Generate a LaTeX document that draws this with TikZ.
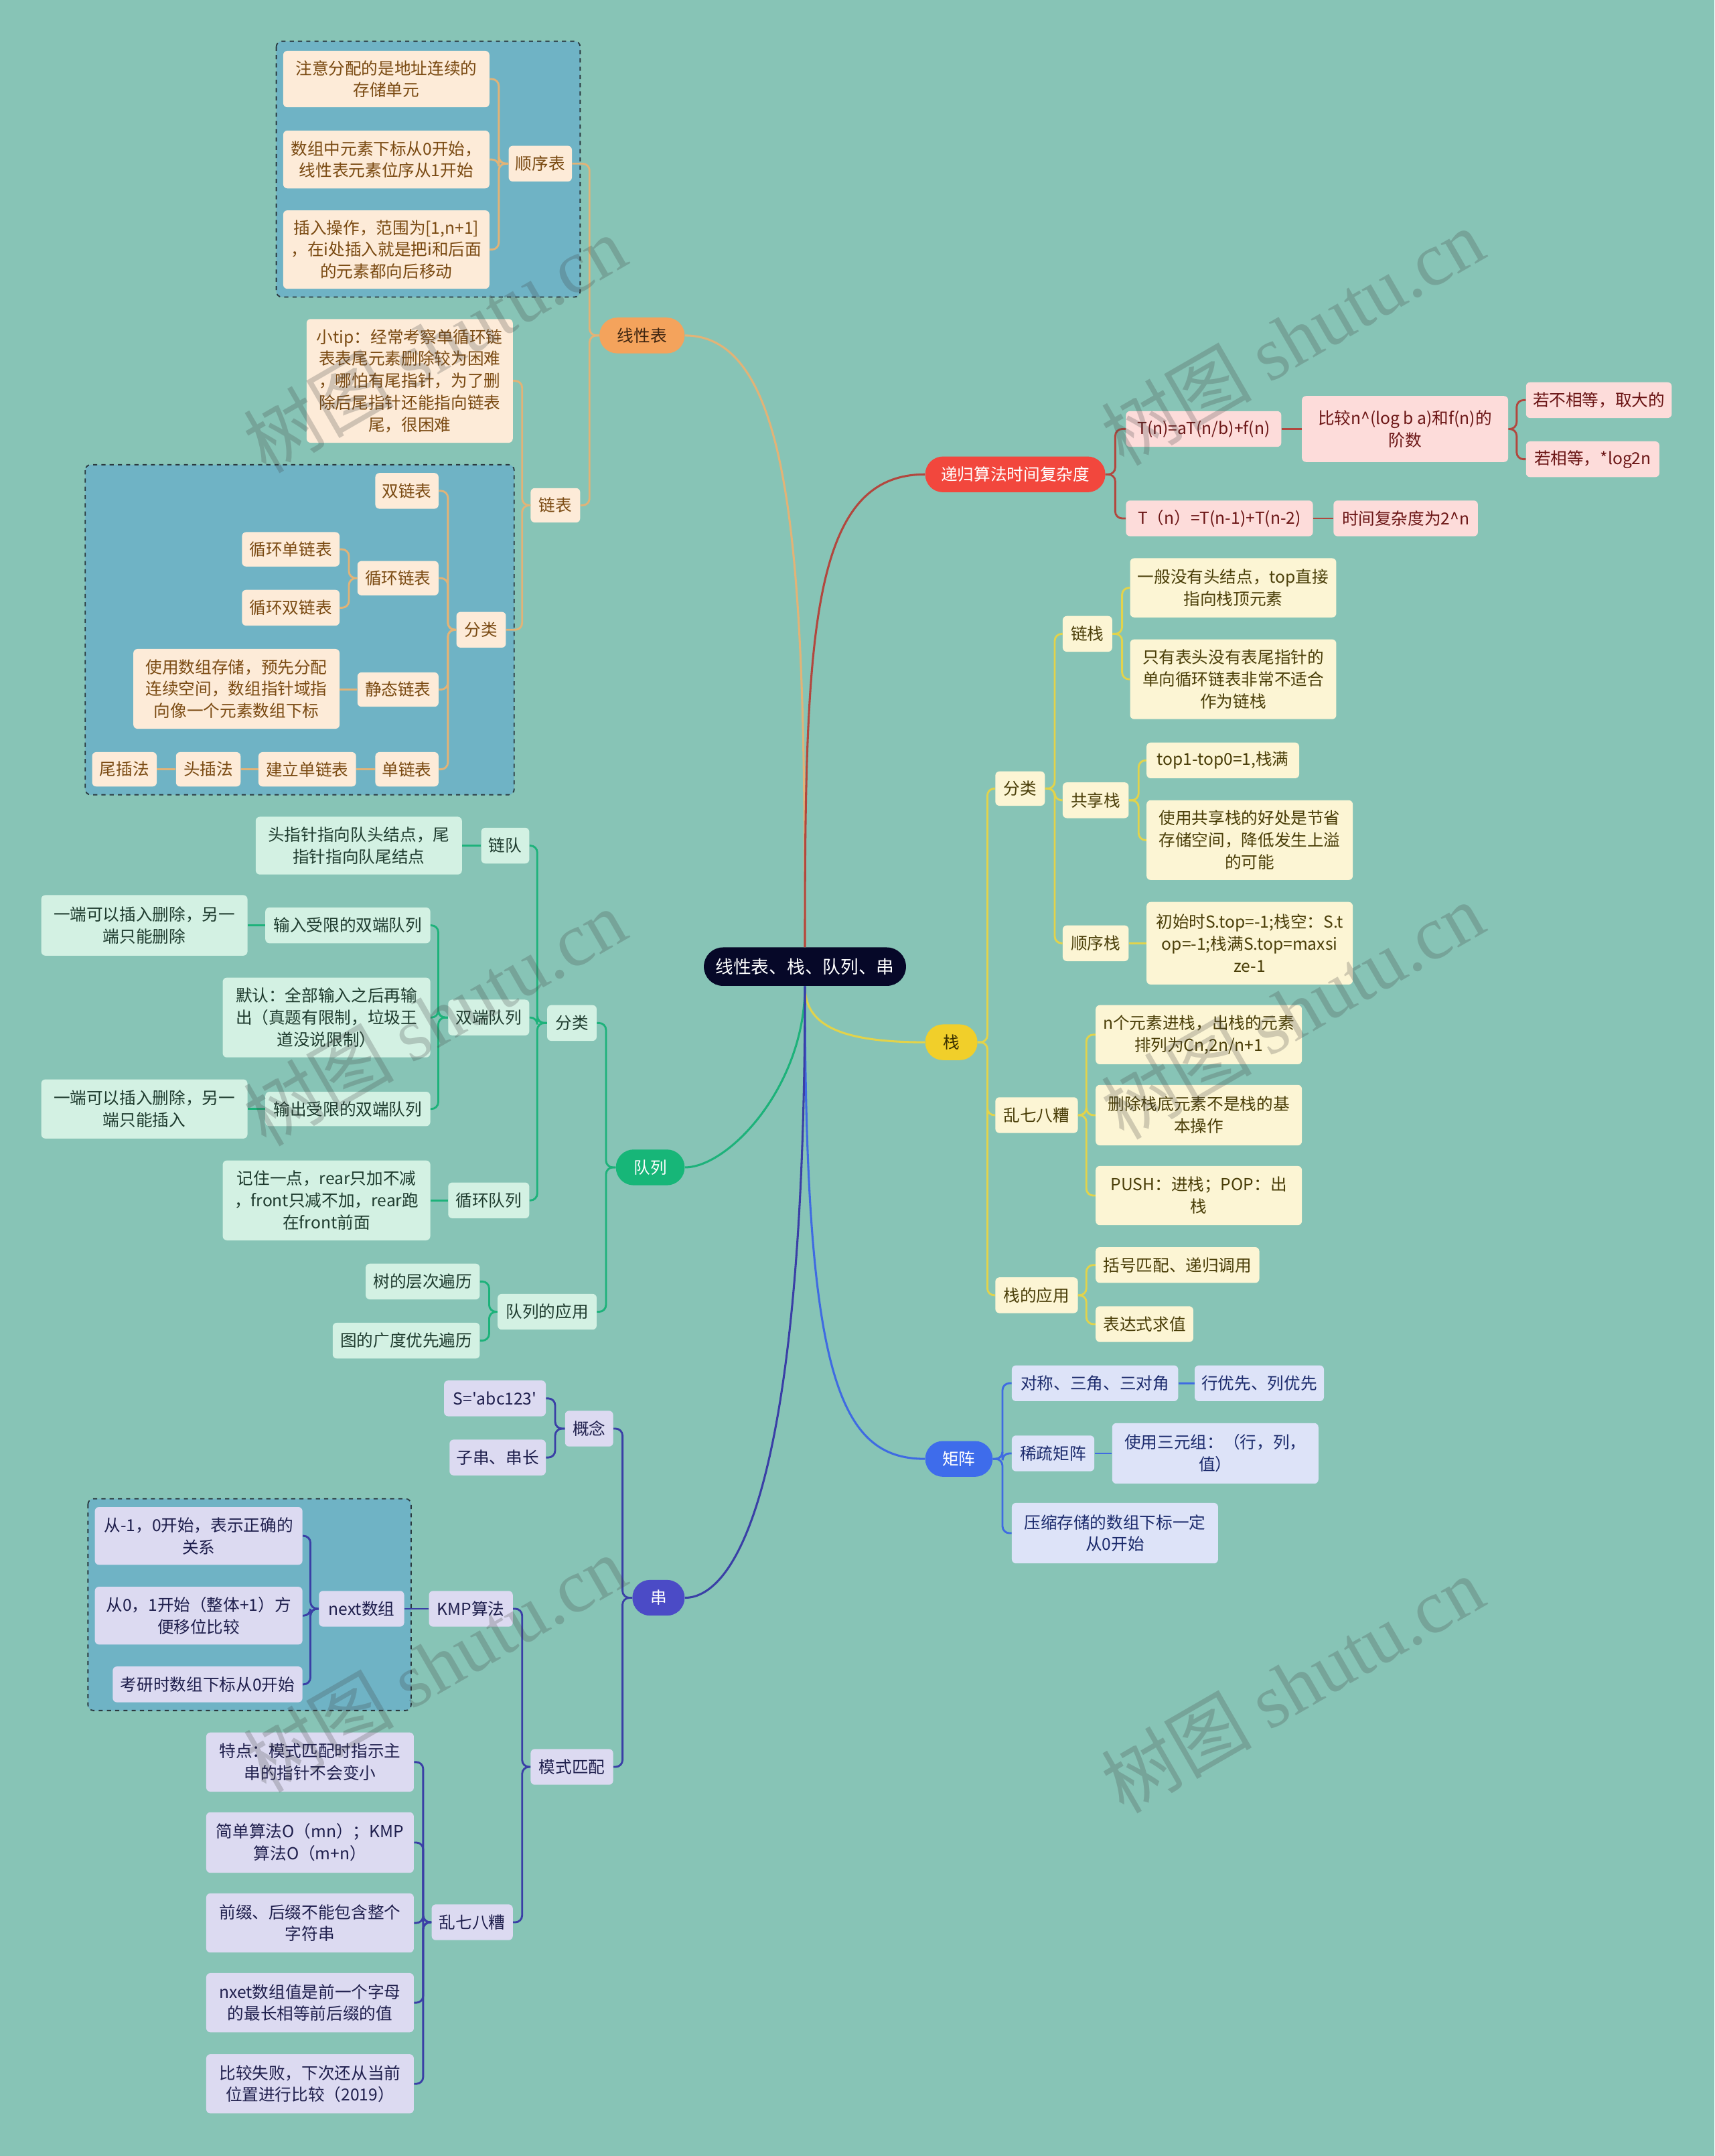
\documentclass[tikz,border=0pt]{standalone}
\usepackage{fontspec}
\setmainfont{Noto Sans CJK SC}[Ligatures=TeXOff]
\newfontfamily\wmser{Liberation Serif}
\definecolor{bg}{HTML}{87C4B6}
\definecolor{dfill}{HTML}{6FB3C5}
\definecolor{dline}{HTML}{2B3A40}
\definecolor{rootc}{HTML}{060828}
\definecolor{lxf}{HTML}{FDEBD8}\definecolor{lxt}{HTML}{7A4A12}\definecolor{lxl}{HTML}{E2B377}\definecolor{lxm}{HTML}{F4A35C}\definecolor{lxmt}{HTML}{3D2410}
\definecolor{rcf}{HTML}{FDDCDA}\definecolor{rct}{HTML}{6B1515}\definecolor{rcl}{HTML}{B2473E}\definecolor{rcm}{HTML}{F2473D}
\definecolor{stf}{HTML}{FCF5D4}\definecolor{stt}{HTML}{4A3E08}\definecolor{stl}{HTML}{E2D34B}\definecolor{stm}{HTML}{F1CF2A}\definecolor{stmt}{HTML}{3A3000}
\definecolor{qf}{HTML}{D3F1E3}\definecolor{qt}{HTML}{1E3B2E}\definecolor{ql}{HTML}{1DB27A}\definecolor{qm}{HTML}{17B678}
\definecolor{mf}{HTML}{DDE3F8}\definecolor{mt}{HTML}{1B2A6C}\definecolor{ml}{HTML}{3F6BE2}\definecolor{mm}{HTML}{3E6CEB}
\definecolor{sf}{HTML}{DCDAF1}\definecolor{stx}{HTML}{1F1F4D}\definecolor{sl}{HTML}{3A3FA6}\definecolor{sm}{HTML}{4B4BC6}
\newcommand\bx[7]{\node[#1,minimum width={#5-#3},minimum height={#6-#4}] (#2) at ({(#3+#5)/2},{(#4+#6)/2}) {#7};}
\newcommand\connL[4]{\foreach \nn in {#4}{\draw[conn,#1] (#2.west) -- ++(-#3,0) |- (\nn.east);}}
\newcommand\connR[4]{\foreach \nn in {#4}{\draw[conn,#1] (#2.east) -- ++(#3,0) |- (\nn.west);}}
\newcommand\lineL[3]{\draw[conn,#1] (#2.west) -- (#3.east |- #2.west);}
\newcommand\lineR[3]{\draw[conn,#1] (#2.east) -- (#3.west |- #2.east);}
\tikzset{
  box/.style={rounded corners=3pt, inner sep=0pt, align=center, font=\fontsize{12}{16}\selectfont},
  pill/.style={rounded corners=12.9pt, inner sep=0pt, align=center, font=\fontsize{12}{16}\selectfont},
  lx/.style={box, fill=lxf, text=lxt},
  rc/.style={box, fill=rcf, text=rct},
  st/.style={box, fill=stf, text=stt},
  q/.style={box, fill=qf, text=qt},
  mx/.style={box, fill=mf, text=mt},
  s/.style={box, fill=sf, text=stx},
  lxmain/.style={pill, fill=lxm, text=lxmt},
  rcmain/.style={pill, fill=rcm, text=white},
  stmain/.style={pill, fill=stm, text=stmt},
  qmain/.style={pill, fill=qm, text=white},
  mxmain/.style={pill, fill=mm, text=white},
  smain/.style={pill, fill=sm, text=white},
  rootn/.style={rounded corners=13.9pt, inner sep=0pt, fill=rootc, text=white, font=\fontsize{13}{16}\selectfont},
  conn/.style={line width=1.4pt, rounded corners=5pt},
  mline/.style={line width=1.5pt},
  dbox/.style={fill=dfill, draw=dline, dashed, line width=0.9pt, rounded corners=4pt},
  wm/.style={rotate=30, text=black!75, text opacity=0.24, inner sep=0pt, font=\fontsize{55}{55}\selectfont}
}
\begin{document}
\begin{tikzpicture}[x=1pt,y=-1pt]
\fill[bg] (0,0) rectangle (1247,1568);
\useasboundingbox (0,0) rectangle (1247,1568);
% dashed group boxes
\draw[dbox] (201,30) rectangle (422,216);
\draw[dbox] (62,338) rectangle (374,578);
\draw[dbox] (64,1090) rectangle (299,1244);
% root
\bx{rootn}{root}{512}{689}{659}{717}{线性表、栈、队列、串}
% ---------- 线性表
\bx{lxmain}{lin}{436}{231}{498}{257}{线性表}
\bx{lx}{sxb}{370}{106}{416}{132}{顺序表}
\bx{lx}{sx1}{206}{37}{356}{78}{注意分配的是地址连续的\\存储单元}
\bx{lx}{sx2}{206}{95}{356}{137}{数组中元素下标从0开始，\\线性表元素位序从1开始}
\bx{lx}{sx3}{206}{153}{356}{210}{插入操作，范围为[1,n+1]\\，在i处插入就是把i和后面\\的元素都向后移动}
\bx{lx}{lb}{386}{355}{422}{380}{链表}
\bx{lx}{tip}{223}{232}{373}{322}{小tip：经常考察单循环链\\表表尾元素删除较为困难\\，哪怕有尾指针，为了删\\除后尾指针还能指向链表\\尾，很困难}
\bx{lx}{lbfl}{332}{445}{368}{471}{分类}
\bx{lx}{sll}{273}{344}{319}{370}{双链表}
\bx{lx}{xh}{260}{408}{319}{433}{循环链表}
\bx{lx}{xha}{176}{387}{247}{412}{循环单链表}
\bx{lx}{xhb}{176}{429}{247}{455}{循环双链表}
\bx{lx}{jt}{260}{489}{319}{514}{静态链表}
\bx{lx}{jta}{97}{472}{247}{530}{使用数组存储，预先分配\\连续空间，数组指针域指\\向像一个元素数组下标}
\bx{lx}{dl}{273}{547}{319}{572}{单链表}
\bx{lx}{jl}{188}{547}{259}{572}{建立单链表}
\bx{lx}{tc}{128}{547}{175}{572}{头插法}
\bx{lx}{wc}{67}{547}{114}{572}{尾插法}
% ---------- 递归
\bx{rcmain}{rec}{673}{332}{804}{358}{递归算法时间复杂度}
\bx{rc}{ra}{819}{299}{932}{325}{T(n)=aT(n/b)+f(n)}
\bx{rc}{raa}{947}{288}{1097}{336}{比较n\textasciicircum(log b a)和f(n)的\\阶数}
\bx{rc}{raaa}{1110}{278}{1216}{304}{若不相等，取大的}
\bx{rc}{raab}{1110}{321}{1207}{347}{若相等，*log2n}
\bx{rc}{rb}{819}{364}{955}{390}{T（n）=T(n-1)+T(n-2)}
\bx{rc}{rba}{970}{364}{1075}{390}{时间复杂度为2\textasciicircum n}
% ---------- 栈
\bx{stmain}{stk}{673}{745}{711}{771}{栈}
\bx{st}{sfl}{724}{561}{760}{586}{分类}
\bx{st}{lz}{773}{448}{809}{474}{链栈}
\bx{st}{lza}{822}{406}{972}{449}{一般没有头结点，top直接\\指向栈顶元素}
\bx{st}{lzb}{822}{465}{972}{523}{只有表头没有表尾指针的\\单向循环链表非常不适合\\作为链栈}
\bx{st}{gx}{773}{569}{821}{595}{共享栈}
\bx{st}{gxa}{834}{540}{945}{566}{top1-top0=1,栈满}
\bx{st}{gxb}{834}{582}{984}{640}{使用共享栈的好处是节省\\存储空间，降低发生上溢\\的可能}
\bx{st}{sqz}{773}{673}{821}{699}{顺序栈}
\bx{st}{sqza}{834}{656}{984}{716}{初始时S.top=-1;栈空：S.t\\op=-1;栈满S.top=maxsi\\ze-1}
\bx{st}{lq}{724}{798}{784}{824}{乱七八糟}
\bx{st}{lqa}{797}{731}{947}{774}{n个元素进栈，出栈的元素\\排列为Cn,2n/n+1}
\bx{st}{lqb}{797}{789}{947}{833}{删除栈底元素不是栈的基\\本操作}
\bx{st}{lqc}{797}{848}{947}{891}{PUSH：进栈；POP：出\\栈}
\bx{st}{yy}{724}{929}{784}{955}{栈的应用}
\bx{st}{yya}{797}{907}{916}{933}{括号匹配、递归调用}
\bx{st}{yyb}{797}{950}{868}{976}{表达式求值}
% ---------- 矩阵
\bx{mxmain}{mat}{673}{1048}{722}{1074}{矩阵}
\bx{mx}{ma}{736}{993}{857}{1019}{对称、三角、三对角}
\bx{mx}{maa}{869}{993}{963}{1019}{行优先、列优先}
\bx{mx}{mb}{736}{1044}{796}{1070}{稀疏矩阵}
\bx{mx}{mba}{809}{1035}{959}{1079}{使用三元组：（行，列，\\值）}
\bx{mx}{mc}{736}{1093}{886}{1137}{压缩存储的数组下标一定\\从0开始}
% ---------- 队列
\bx{qmain}{que}{448}{836}{498}{862}{队列}
\bx{q}{qfl}{398}{731}{434}{757}{分类}
\bx{q}{ld}{350}{602}{385}{628}{链队}
\bx{q}{lda}{186}{594}{336}{636}{头指针指向队头结点，尾\\指针指向队尾结点}
\bx{q}{sd}{326}{727}{385}{753}{双端队列}
\bx{q}{sda}{193}{660}{313}{686}{输入受限的双端队列}
\bx{q}{sdaa}{30}{651}{180}{695}{一端可以插入删除，另一\\端只能删除}
\bx{q}{sdb}{162}{711}{313}{769}{默认：全部输入之后再输\\出（真题有限制，垃圾王\\道没说限制）}
\bx{q}{sdc}{193}{794}{313}{819}{输出受限的双端队列}
\bx{q}{sdca}{30}{785}{180}{828}{一端可以插入删除，另一\\端只能插入}
\bx{q}{xd}{326}{860}{385}{886}{循环队列}
\bx{q}{xda}{162}{844}{313}{902}{记住一点，rear只加不减\\，front只减不加，rear跑\\在front前面}
\bx{q}{qy}{362}{941}{434}{967}{队列的应用}
\bx{q}{qya}{266}{919}{349}{945}{树的层次遍历}
\bx{q}{qyb}{242}{962}{349}{988}{图的广度优先遍历}
% ---------- 串
\bx{smain}{str}{460}{1149}{498}{1175}{串}
\bx{s}{gn}{411}{1026}{446}{1052}{概念}
\bx{s}{gna}{323}{1004}{397}{1030}{S='abc123'}
\bx{s}{gnb}{327}{1047}{397}{1073}{子串、串长}
\bx{s}{ms}{386}{1272}{446}{1298}{模式匹配}
\bx{s}{kmp}{312}{1157}{373}{1183}{KMP算法}
\bx{s}{nx}{232}{1157}{294}{1183}{next数组}
\bx{s}{nxa}{69}{1096}{220}{1138}{从-1，0开始，表示正确的\\关系}
\bx{s}{nxb}{69}{1154}{220}{1196}{从0，1开始（整体+1）方\\便移位比较}
\bx{s}{nxc}{82}{1212}{220}{1238}{考研时数组下标从0开始}
\bx{s}{slq}{314}{1385}{373}{1411}{乱七八糟}
\bx{s}{slqa}{150}{1260}{301}{1303}{特点：模式匹配时指示主\\串的指针不会变小}
\bx{s}{slqb}{150}{1318}{301}{1362}{简单算法O（mn）；KMP\\算法O（m+n）}
\bx{s}{slqc}{150}{1377}{301}{1420}{前缀、后缀不能包含整个\\字符串}
\bx{s}{slqd}{150}{1435}{301}{1478}{nxet数组值是前一个字母\\的最长相等前后缀的值}
\bx{s}{slqe}{150}{1494}{301}{1537}{比较失败，下次还从当前\\位置进行比较（2019）}
% ---------- main curves
\draw[mline,lxl] (root.north) .. controls (585.5,420) and (580,244) .. (lin.east);
\draw[mline,rcl] (root.north) .. controls (585.5,460) and (590,345) .. (rec.west);
\draw[mline,stl] (root.south) .. controls (585.5,745) and (610,758) .. (stk.west);
\draw[mline,ql] (root.south) .. controls (585.5,790) and (530,849) .. (que.east);
\draw[mline,ml] (root.south) .. controls (585.5,1000) and (610,1061) .. (mat.west);
\draw[mline,sl] (root.south) .. controls (585.5,1100) and (530,1162) .. (str.east);
% ---------- connectors 线性表
\connL{lxl}{lin}{7}{sxb,lb}
\connL{lxl}{sxb}{7}{sx1,sx2,sx3}
\connL{lxl}{lb}{6}{tip,lbfl}
\connL{lxl}{lbfl}{6}{sll,xh,jt,dl}
\connL{lxl}{xh}{6}{xha,xhb}
\lineL{lxl}{jt}{jta}
\lineL{lxl}{dl}{jl}
\lineL{lxl}{jl}{tc}
\lineL{lxl}{tc}{wc}
% 递归
\connR{rcl}{rec}{7}{ra,rb}
\lineR{rcl}{ra}{raa}
\connR{rcl}{raa}{6}{raaa,raab}
\lineR{rcl}{rb}{rba}
% 栈
\connR{stl}{stk}{7}{sfl,lq,yy}
\connR{stl}{sfl}{7}{lz,gx,sqz}
\connR{stl}{lz}{7}{lza,lzb}
\connR{stl}{gx}{7}{gxa,gxb}
\lineR{stl}{sqz}{sqza}
\connR{stl}{lq}{6}{lqa,lqb,lqc}
\connR{stl}{yy}{6}{yya,yyb}
% 矩阵
\connR{ml}{mat}{7}{ma,mb,mc}
\lineR{ml}{ma}{maa}
\lineR{ml}{mb}{mba}
% 队列
\connL{ql}{que}{7}{qfl,qy}
\connL{ql}{qfl}{7}{ld,sd,xd}
\lineL{ql}{ld}{lda}
\connL{ql}{sd}{7}{sda,sdb,sdc}
\lineL{ql}{sda}{sdaa}
\lineL{ql}{sdc}{sdca}
\lineL{ql}{xd}{xda}
\connL{ql}{qy}{6}{qya,qyb}
% 串
\connL{sl}{str}{7}{gn,ms}
\connL{sl}{gn}{7}{gna,gnb}
\connL{sl}{ms}{6}{kmp,slq}
\lineL{sl}{kmp}{nx}
\connL{sl}{nx}{6}{nxa,nxb,nxc}
\connL{sl}{slq}{6}{slqa,slqb,slqc,slqd,slqe}
% ---------- watermarks
\foreach \a/\b in {316/250,316/740,316/1210,940/245,940/735,940/1225}
  \node[wm] at (\a,\b) {树图 {\wmser shutu.cn}};
\end{tikzpicture}
\end{document}
